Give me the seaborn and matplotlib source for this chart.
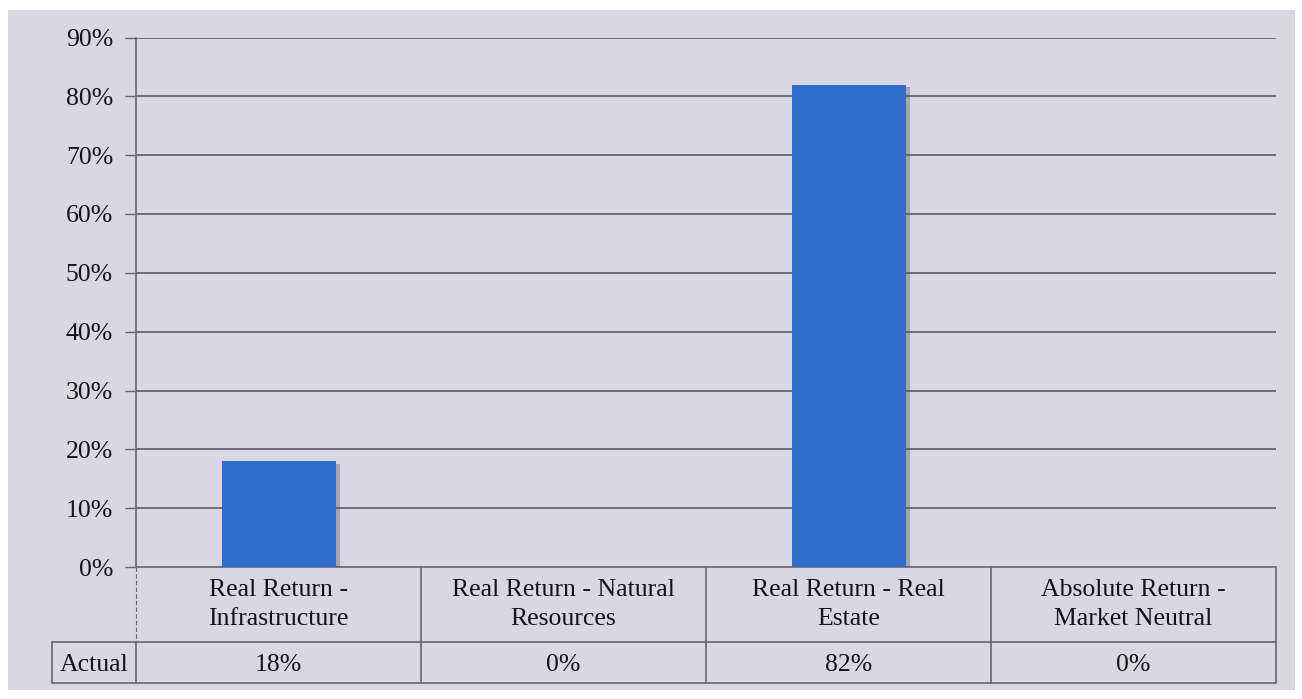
"""
Grafico de barras con tabla de datos debajo (estilo Excel): asignacion actual
por categoria de Real Return / Absolute Return.
"""

import matplotlib.pyplot as plt
import matplotlib.patheffects as pe
import seaborn as sns
from matplotlib.lines import Line2D
from matplotlib.patches import Rectangle
from matplotlib.ticker import PercentFormatter


CATEGORIAS = [
    'Real Return -\nInfrastructure',
    'Real Return - Natural\nResources',
    'Real Return - Real\nEstate',
    'Absolute Return -\nMarket Neutral',
]
ACTUAL = [0.18, 0.0, 0.82, 0.0]
ETIQUETA_FILA = 'Actual'
Y_TICKS = [0.0, 0.1, 0.2, 0.3, 0.4, 0.5, 0.6, 0.7, 0.8, 0.9]

FONDO = '#d9d7e2'
AZUL = '#2f6fcc'
GRIS = '#66666c'
TEXTO = '#141414'
FUENTE = 'Liberation Serif'
TAM = 18.5

W, H = 1302, 699

sns.set_style('white')
plt.rcParams['font.family'] = [FUENTE, 'DejaVu Serif']

fig = plt.figure(figsize=(W / 100, H / 100), dpi=100, facecolor='white')
# panel lavanda de fondo
fig.patches.append(Rectangle((8 / W, 9 / H), 1287 / W, 680 / H,
                             transform=fig.transFigure, facecolor=FONDO,
                             edgecolor='none', zorder=-10))

# area del grafico en pixeles: x 136..1276, y 37.5..567
ax = fig.add_axes([136 / W, (H - 567) / H, 1140 / W, 529.5 / H])
ax.set_facecolor('none')

sns.barplot(x=list(range(len(CATEGORIAS))), y=ACTUAL, color=AZUL,
            width=0.4, saturation=1, ax=ax, zorder=3)
for bar in ax.patches:
    bar.set_edgecolor('none')
    bar.set_path_effects([pe.SimplePatchShadow(offset=(3, -2), shadow_rgbFace='#555566', alpha=0.4),
                          pe.Normal()])

ax.set_xlim(-0.5, len(CATEGORIAS) - 0.5)
ax.set_ylim(0, 0.9)
ax.set_yticks(Y_TICKS)
ax.yaxis.set_major_formatter(PercentFormatter(1.0, decimals=0))
ax.tick_params(axis='y', labelsize=TAM, labelcolor=TEXTO, length=8, width=1,
               color=GRIS, pad=8.5, left=True)
ax.set_xticks([])
ax.set_xlabel('')
ax.set_ylabel('')
for lab in ax.get_yticklabels():
    lab.set_fontfamily(FUENTE)

ax.grid(False)
for y in Y_TICKS[1:]:
    ax.axhline(y, color=GRIS, lw=1.3, zorder=1)

for lado in ['top', 'right', 'bottom']:
    ax.spines[lado].set_visible(False)
ax.spines['left'].set_color(GRIS)
ax.spines['left'].set_linewidth(1.2)

# ---- tabla de datos bajo el eje ----
alto_ax = 529.5
y_cab = -75 / alto_ax      # fin de la fila de categorias
y_fin = -116 / alto_ax     # fin de la fila "Actual"
x_izq = -84 / 1140         # borde izquierdo de la celda "Actual"

kw = dict(transform=ax.transAxes, color=GRIS, lw=1.2, clip_on=False)
ax.add_line(Line2D([0, 1], [0, 0], **kw))
ax.add_line(Line2D([x_izq, 1], [y_cab, y_cab], **kw))
ax.add_line(Line2D([x_izq, 1], [y_fin, y_fin], **kw))
ax.add_line(Line2D([x_izq, x_izq], [y_cab, y_fin], **kw))
ax.add_line(Line2D([0, 0], [y_cab, y_fin], **kw))
ax.add_line(Line2D([0, 0], [0, y_cab], transform=ax.transAxes, color=GRIS,
                   lw=0.8, ls=(0, (4, 2)), clip_on=False))
for i in range(1, len(CATEGORIAS) + 1):
    xf = i / len(CATEGORIAS)
    ax.add_line(Line2D([xf, xf], [0, y_fin], **kw))

trans = ax.get_xaxis_transform()
for i, (cat, val) in enumerate(zip(CATEGORIAS, ACTUAL)):
    ax.text(i, y_cab / 2, cat, transform=trans, ha='center', va='center',
            fontsize=TAM, linespacing=1.38, color=TEXTO)
    ax.text(i, (y_cab + y_fin) / 2 - 0.005, f'{val:.0%}', transform=trans,
            ha='center', va='center', fontsize=TAM, color=TEXTO)
ax.text(x_izq / 2, (y_cab + y_fin) / 2 - 0.005, ETIQUETA_FILA, transform=ax.transAxes,
        ha='center', va='center', fontsize=TAM, color=TEXTO)

fig.savefig('out.png', dpi=100, facecolor=fig.get_facecolor())
